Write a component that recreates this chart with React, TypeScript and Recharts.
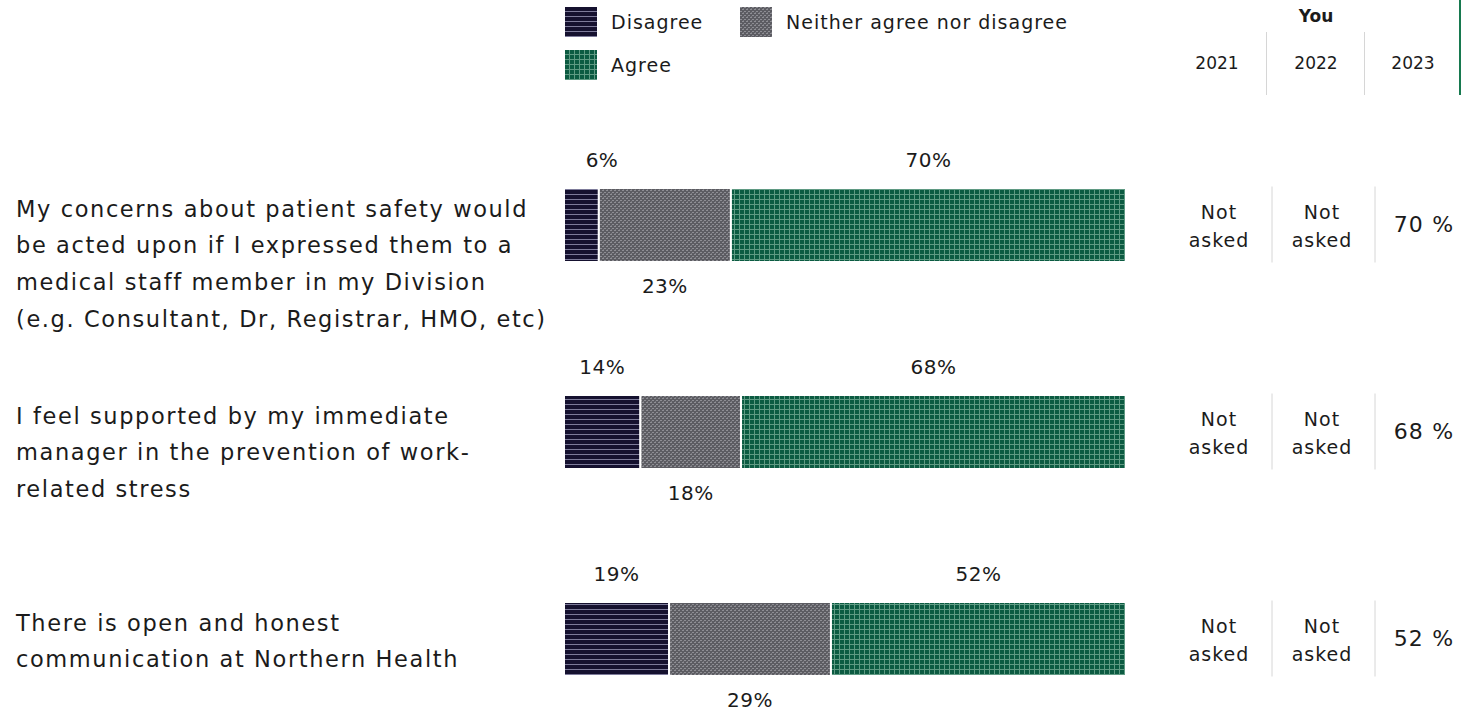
import { BarChart, Bar, XAxis, YAxis, LabelList } from "recharts"

const questions = [
  [
    "My concerns about patient safety would",
    "be acted upon if I expressed them to a",
    "medical staff member in my Division",
    "(e.g. Consultant, Dr, Registrar, HMO, etc)",
  ],
  [
    "I feel supported by my immediate",
    "manager in the prevention of work-",
    "related stress",
  ],
  ["There is open and honest", "communication at Northern Health"],
]
// bar lengths (unrounded) and the rounded labels shown
const disagree = [6.2, 13.6, 18.7]
const neither = [23.5, 17.9, 28.8]
const agree = [70.3, 68.5, 52.5]
const disagreeLabels = [6, 14, 19]
const neitherLabels = [23, 18, 29]
const agreeLabels = [70, 68, 52]
const you2021 = ["Not asked", "Not asked", "Not asked"]
const you2022 = ["Not asked", "Not asked", "Not asked"]
const you2023 = ["70 %", "68 %", "52 %"]
const years = ["2021", "2022", "2023"]

const FONT = "'DejaVu Sans', sans-serif"
const INK = "#1b1b1b"

const data = questions.map((lines, i) => ({
  question: lines.join(" "),
  disagree: disagree[i],
  neither: neither[i],
  agree: agree[i],
  disagreeLabel: disagreeLabels[i],
  neitherLabel: neitherLabels[i],
  agreeLabel: agreeLabels[i],
  y2021: you2021[i],
  y2022: you2022[i],
  y2023: you2023[i],
}))

function LeftTick({ y, index }: any) {
  const lines = questions[index] || []
  return (
    <text x={16} y={y - 16} fontFamily={FONT} fontSize={22.5} fill={INK} letterSpacing={1.6}>
      {lines.map((l, k) => (
        <tspan key={k} x={16} dy={k === 0 ? 0 : 36.7} dominantBaseline="central">
          {l}
        </tspan>
      ))}
    </text>
  )
}

function Cell({ cx, y, value }: { cx: number; y: number; value: string }) {
  const parts = value === "Not asked" ? ["Not", "asked"] : [value]
  if (parts.length === 1)
    return (
      <text x={cx} y={y} textAnchor="middle" dominantBaseline="central" fontFamily={FONT} fontSize={22} fill={INK} letterSpacing={1.2}>
        {value}
      </text>
    )
  return (
    <text textAnchor="middle" fontFamily={FONT} fontSize={19} fill={INK} letterSpacing={1}>
      <tspan x={cx} y={y - 13} dominantBaseline="central">{parts[0]}</tspan>
      <tspan x={cx} y={y + 15} dominantBaseline="central">{parts[1]}</tspan>
    </text>
  )
}

function RightTick({ y, index }: any) {
  const row = data[index]
  if (!row) return null
  return (
    <g>
      <Cell cx={1219} y={y} value={row.y2021} />
      <line x1={1272} x2={1272} y1={y - 38} y2={y + 38} stroke="#d6d6d6" />
      <Cell cx={1322} y={y} value={row.y2022} />
      <line x1={1375} x2={1375} y1={y - 38} y2={y + 38} stroke="#d6d6d6" />
      <Cell cx={1424} y={y} value={row.y2023} />
    </g>
  )
}

const labelAbove = (minOffset: number) => (props: any) => {
  const { x, y, width, value } = props
  const cx = Math.max(x + width / 2, x + minOffset)
  return (
    <text x={cx} y={y - 28} textAnchor="middle" dominantBaseline="central" fontFamily={FONT} fontSize={20} fill={INK} letterSpacing={0.5}>
      {value}%
    </text>
  )
}

const labelBelow = (props: any) => {
  const { x, y, width, height, value } = props
  return (
    <text x={x + width / 2} y={y + height + 24} textAnchor="middle" dominantBaseline="central" fontFamily={FONT} fontSize={20} fill={INK} letterSpacing={0.5}>
      {value}%
    </text>
  )
}

function Patterns() {
  return (
    <svg width={0} height={0} style={{ position: "absolute" }}>
      <defs>
        <pattern id="patDisagree" width={6} height={5} patternUnits="userSpaceOnUse">
          <rect width={6} height={5} fill="#15112f" />
          <rect y={4} width={6} height={1} fill="#7d7b9a" />
        </pattern>
        <pattern id="patNeither" width={4} height={4} patternUnits="userSpaceOnUse">
          <rect width={4} height={4} fill="#5c5c62" />
          <rect x={0} y={0} width={2} height={1} fill="#8e8e94" />
          <rect x={2} y={2} width={2} height={1} fill="#8e8e94" />
          <rect x={3} y={1} width={1} height={1} fill="#77777d" />
        </pattern>
        <pattern id="patAgree" width={5} height={5} patternUnits="userSpaceOnUse">
          <rect width={5} height={5} fill="#0c5b42" />
          <rect x={4} width={1} height={5} fill="#5f9a83" />
          <rect y={4} width={5} height={1} fill="#5f9a83" />
        </pattern>
      </defs>
    </svg>
  )
}

const legendItems = [
  { label: "Disagree", fill: "url(#patDisagree)", left: 565, top: 7 },
  { label: "Neither agree nor disagree", fill: "url(#patNeither)", left: 740, top: 7 },
  { label: "Agree", fill: "url(#patAgree)", left: 565, top: 50 },
]

const abs = (left: number, top: number): React.CSSProperties => ({
  position: "absolute",
  left,
  top,
  transform: "translate(-50%, -50%)",
  whiteSpace: "nowrap",
})

export default function App() {
  return (
    <div
      style={{
        position: "absolute",
        left: 0,
        top: 0,
        width: 1466,
        height: 713,
        overflow: "hidden",
        background: "#fff",
        fontFamily: FONT,
        color: INK,
      }}
    >
      <Patterns />
      {legendItems.map((it) => (
        <div key={it.label} style={{ position: "absolute", left: it.left, top: it.top, display: "flex", alignItems: "center" }}>
          <svg width={32} height={30}>
            <rect width={32} height={30} fill={it.fill} />
          </svg>
          <span style={{ marginLeft: 14, fontSize: 19, letterSpacing: 1 }}>{it.label}</span>
        </div>
      ))}
      <div style={{ ...abs(1316, 16), fontSize: 17, fontWeight: 700 }}>You</div>
      {years.map((yr, i) => (
        <div key={yr} style={{ ...abs([1217, 1316, 1413][i], 63), fontSize: 17 }}>
          {yr}
        </div>
      ))}
      <div style={{ position: "absolute", left: 1266, top: 32, width: 1, height: 63, background: "#d6d6d6" }} />
      <div style={{ position: "absolute", left: 1364, top: 32, width: 1, height: 63, background: "#d6d6d6" }} />
      <div style={{ position: "absolute", left: 1459, top: 0, width: 2, height: 95, background: "#17794f" }} />

      <BarChart
        width={1466}
        height={750}
        data={data}
        layout="vertical"
        margin={{ top: 121, right: 0, bottom: 8, left: 15 }}
      >
        <XAxis type="number" domain={[0, 100]} hide />
        <YAxis
          yAxisId="left"
          type="category"
          dataKey="question"
          width={549}
          axisLine={false}
          tickLine={false}
          tick={<LeftTick />}
        />
        <YAxis
          yAxisId="right"
          orientation="right"
          type="category"
          dataKey="question"
          width={340}
          axisLine={false}
          tickLine={false}
          tick={<RightTick />}
        />
        <Bar yAxisId="left" dataKey="disagree" stackId="a" barSize={74} fill="url(#patDisagree)" stroke="#fff" strokeWidth={2} isAnimationActive={false}>
          <LabelList dataKey="disagreeLabel" content={labelAbove(38)} />
        </Bar>
        <Bar yAxisId="left" dataKey="neither" stackId="a" barSize={74} fill="url(#patNeither)" stroke="#fff" strokeWidth={2} isAnimationActive={false}>
          <LabelList dataKey="neitherLabel" content={labelBelow} />
        </Bar>
        <Bar yAxisId="left" dataKey="agree" stackId="a" barSize={74} fill="url(#patAgree)" stroke="#fff" strokeWidth={2} isAnimationActive={false}>
          <LabelList dataKey="agreeLabel" content={labelAbove(0)} />
        </Bar>
      </BarChart>
    </div>
  )
}
